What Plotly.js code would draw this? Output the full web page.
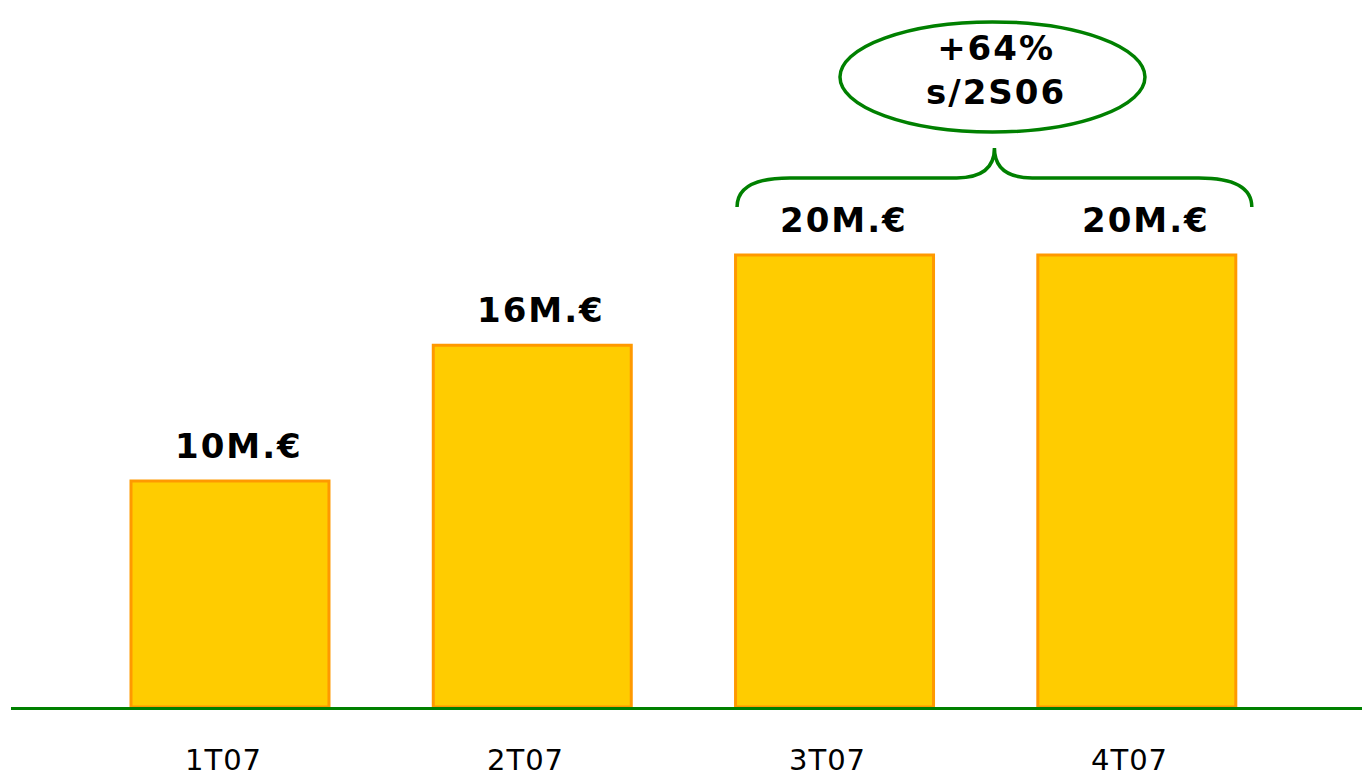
<!DOCTYPE html>
<html>
<head>
<meta charset="utf-8">
<script src="https://cdn.plot.ly/plotly-3.0.1.min.js"></script>
<style>
html,body{margin:0;padding:0;background:#fff;}
#chart{width:1362px;height:778px;}
.annotation-text.lbl-bold{letter-spacing:2px;}
.annotation-text.lbl-cat{letter-spacing:1px;}
</style>
</head>
<body>
<div id="chart"></div>
<script>
const categories = ['1T07', '2T07', '3T07', '4T07'];
const values = [10, 16, 20, 20];
const valueLabels = ['10M.€', '16M.€', '20M.€', '20M.€'];
const growthLabel = '+64%<br>s/2S06';

const idx = categories.map((c, i) => i);
const barWidth = 0.655;
const FONT = 'DejaVu Sans, Verdana, sans-serif';

const trace = {
  type: 'bar',
  x: idx,
  y: values,
  width: barWidth,
  marker: {color: '#FFCC00', line: {color: '#FF9900', width: 3}},
  hoverinfo: 'skip'
};

const annotations = values.map((v, i) => ({
  x: idx[i], y: v, xref: 'x', yref: 'y',
  text: valueLabels[i], showarrow: false,
  yanchor: 'bottom', xanchor: 'center', xshift: 9, yshift: 13,
  font: {family: FONT, size: 34, color: '#000', weight: 'bold'}
}));

categories.forEach((c, i) => annotations.push({
  x: idx[i], y: 0, xref: 'x', yref: 'paper',
  text: c, showarrow: false,
  yanchor: 'top', xanchor: 'center', xshift: -7, yshift: -34,
  font: {family: FONT, size: 29, color: '#000'}
}));

// brace over bars 3 and 4
const x0 = idx[2] - barWidth / 2 + 0.005, x1 = idx[3] + barWidth / 2 + 0.053;
const tip = (x0 + x1) / 2;
const yEnd = values[2] + 2.12, yH = values[2] + 3.41, yTip = values[2] + 4.73;
const dx = 0.175, dt = 0.125;
const bracePath = `M ${x0},${yEnd} Q ${x0},${yH} ${x0 + dx},${yH} L ${tip - dt},${yH} Q ${tip},${yH} ${tip},${yTip} ` +
  `Q ${tip},${yH} ${tip + dt},${yH} L ${x1 - dx},${yH} Q ${x1},${yH} ${x1},${yEnd}`;

annotations.push({
  x: tip, y: 28.2, xref: 'x', yref: 'y', text: growthLabel, showarrow: false,
  xanchor: 'center', yanchor: 'middle', xshift: 2,
  font: {family: FONT, size: 34, color: '#000', weight: 'bold'}
});

const layout = {
  width: 1362, height: 778,
  margin: {l: 11, r: 0, t: 0, b: 71},
  paper_bgcolor: '#fff', plot_bgcolor: '#fff',
  showlegend: false,
  xaxis: {
    type: 'linear', range: [-0.7245, 3.745],
    tickvals: idx, ticktext: categories, showticklabels: false,
    showgrid: false, zeroline: false,
    showline: true, linecolor: '#008000', linewidth: 3,
    ticks: '', fixedrange: true
  },
  yaxis: {
    range: [0, 31.28], visible: false, showgrid: false, zeroline: false, fixedrange: true
  },
  shapes: [
    {type: 'path', xref: 'x', yref: 'y', path: bracePath, line: {color: '#008000', width: 3.5}},
    {type: 'circle', xref: 'x', yref: 'y', x0: 2.018, x1: 3.027, y0: 25.44, y1: 30.31,
     line: {color: '#008000', width: 3.5}, fillcolor: 'rgba(0,0,0,0)'}
  ],
  annotations: annotations
};

Plotly.newPlot('chart', [trace], layout, {displayModeBar: false, staticPlot: true}).then(() => {
  const nodes = document.querySelectorAll('.annotation-text');
  nodes.forEach(n => {
    const t = n.textContent;
    if (categories.includes(t)) n.classList.add('lbl-cat');
    else n.classList.add('lbl-bold');
  });
});
</script>
</body>
</html>
